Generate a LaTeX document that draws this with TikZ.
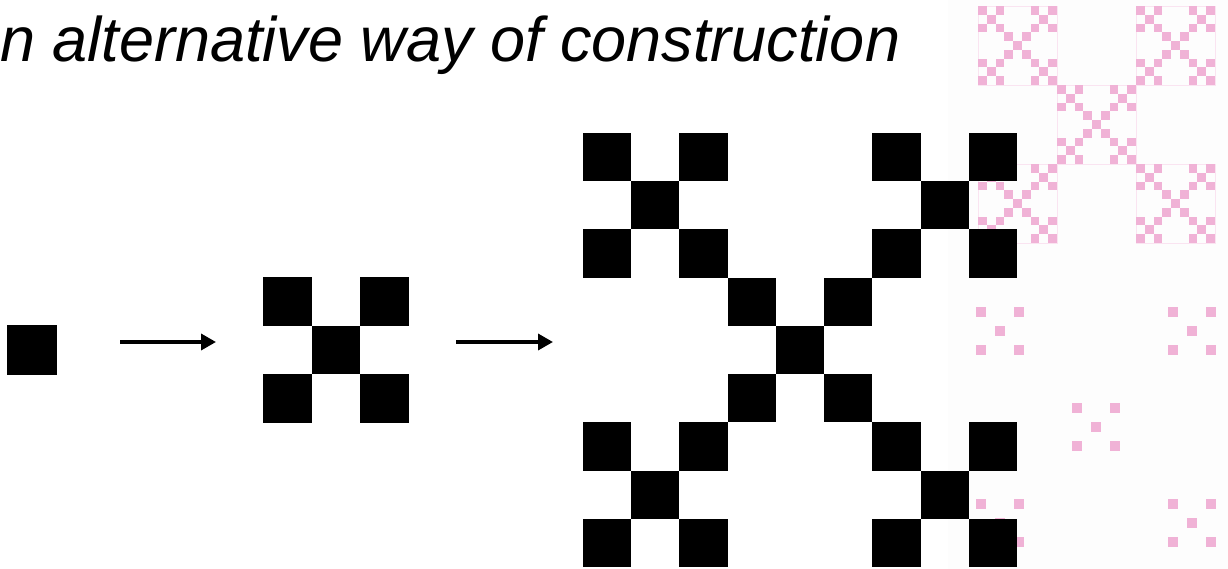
\documentclass[tikz,border=0pt]{standalone}
\usepackage{fontspec}
\setmainfont{Liberation Sans}
\usetikzlibrary{arrows.meta,calc}
\definecolor{fracpink}{RGB}{240,178,214}
\definecolor{faintbg}{RGB}{253,253,253}
\tikzset{
  blk/.style={fill=black},
  pinksq/.style={fill=fracpink},
  pinkframe/.style={draw=fracpink!35,line width=0.8pt},
  stagearrow/.style={line width=3.5pt,-{Triangle[length=15pt,width=16pt]}},
  titletext/.style={inner sep=0pt,anchor=base west,font=\fontsize{63}{75}\selectfont\itshape}
}
\begin{document}
\begin{tikzpicture}[x=1pt,y=-1pt]
\useasboundingbox (0,0) rectangle (1228,569);
% faint background panel of the pink picture
\fill[faintbg] (948,0) rectangle (1228,569);
% pink level-3 fractal (top right)
\foreach \I/\J in {0/0,2/0,1/1,0/2,2/2}{
  \draw[pinkframe] ({978+\I*79},{6+\J*79}) rectangle ++(79,79);
  \foreach \K/\L in {0/0,2/0,1/1,0/2,2/2}{
    \foreach \i/\j in {0/0,2/0,1/1,0/2,2/2}{
      \fill[pinksq] ({978+\I*79+\K*26.333+\i*8.778},{6+\J*79+\L*26.333+\j*8.778}) rectangle ++(8.78,8.78);
    }
  }
}
% pink dust (bottom right)
\foreach \cx/\cy in {1000/331,1192/331,1096/427,1000/523,1192/523}{
  \foreach \dx/\dy in {-19/-19,19/-19,0/0,-19/19,19/19}{
    \fill[pinksq] ({\cx+\dx-5},{\cy+\dy-5}) rectangle ++(10,10);
  }
}
% title
\node[titletext] (title) at (0,62) {n alternative way of construction};
% stage 0
\coordinate (s0) at (7,325);
\fill[blk] (s0) rectangle ++(50,50);
% stage 1
\coordinate (s1) at (263,277);
\foreach \i/\j in {0/0,2/0,1/1,0/2,2/2}{
  \fill[blk] ($(s1)+(\i*48.67,\j*48.67)$) rectangle ++(48.67,48.67);
}
% stage 2
\coordinate (s2) at (583,133);
\foreach \I/\J in {0/0,2/0,1/1,0/2,2/2}{
  \foreach \i/\j in {0/0,2/0,1/1,0/2,2/2}{
    \fill[blk] ({583+\I*144.67+\i*48.22},{133+\J*144.67+\j*48.22}) rectangle ++(48.25,48.25);
  }
}
% arrows
\coordinate (a1s) at (120,342);
\coordinate (a1e) at (216,342);
\coordinate (a2s) at (456,342);
\coordinate (a2e) at (553,342);
\draw[stagearrow] (a1s) -- (a1e);
\draw[stagearrow] (a2s) -- (a2e);
\end{tikzpicture}
\end{document}
